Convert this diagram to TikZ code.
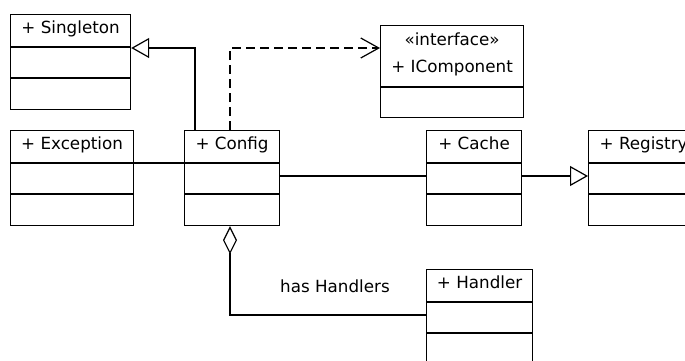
\documentclass[tikz,border=0pt]{standalone}
\usepackage{fontspec}
\setmainfont{DejaVu Sans}
\usetikzlibrary{arrows.meta}
\tikzset{
  cls/.style={draw, line width=1.2bp, fill=white, inner sep=0pt, anchor=north west},
  ttl/.style={font=\fontsize{16.8}{20}\selectfont, inner sep=0pt, anchor=base},
  edge/.style={line width=1.2bp},
  gen/.style={edge, -{Triangle[open, length=18bp, width=20bp, line width=1.2bp]}},
  dep/.style={edge, dash pattern=on 9bp off 5bp, -{Straight Barb[length=18bp, width=20bp, line width=1.2bp]}},
  agg/.style={edge, {Diamond[open, length=28bp, width=14bp, line width=1.2bp]}-},
}
\newcommand\umlclass[4]{% name, x, y, width
  \node[cls, minimum width=#4bp, minimum height=95bp] (#1) at (#2,#3) {};
  \draw[edge] ([yshift=-33bp]#1.north west) -- ([yshift=-33bp]#1.north east);
  \draw[edge] ([yshift=-64bp]#1.north west) -- ([yshift=-64bp]#1.north east);
}
\begin{document}
\begin{tikzpicture}[x=1bp, y=-1bp]
\useasboundingbox (0,0) rectangle (685,360);
\clip (0,0) rectangle (685,360);
\fill[white] (0,0) rectangle (685,360);

\umlclass{singleton}{10}{14}{120}
\node[ttl] (singleton-t) at ([yshift=-19bp]singleton.north) {+ Singleton};

\umlclass{exception}{10}{130}{123}
\node[ttl] (exception-t) at ([yshift=-19bp]exception.north) {+ Exception};

\umlclass{config}{184}{130}{95}
\node[ttl] (config-t) at ([yshift=-19bp]config.north) {+ Config};

\umlclass{cache}{426}{130}{95}
\node[ttl] (cache-t) at ([yshift=-19bp]cache.north) {+ Cache};

\umlclass{registry}{588}{130}{110}
\node[ttl] (registry-t) at ([yshift=-19bp]registry.north) {+ Registry};

\umlclass{handler}{426}{269}{106}
\node[ttl] (handler-t) at ([yshift=-19bp]handler.north) {+ Handler};

\node[cls, minimum width=143bp, minimum height=92bp] (icomp) at (380,25) {};
\draw[edge] ([yshift=-62bp]icomp.north west) -- ([yshift=-62bp]icomp.north east);
\node[ttl] (icomp-s) at ([yshift=-20bp]icomp.north) {«interface»};
\node[ttl] (icomp-t) at ([yshift=-47bp]icomp.north) {+ IComponent};

% connectors
\draw[gen] ([xshift=11bp]config.north west) |- ([yshift=-34bp]singleton.north east);
\draw[dep] ([xshift=46bp]config.north west) |- ([yshift=-23bp]icomp.north west);
\draw[edge] ([yshift=-33bp]exception.north east) -- ([yshift=-33bp]config.north west);
\draw[edge] ([yshift=-46bp]config.north east) -- ([yshift=-46bp]cache.north west);
\draw[gen] ([yshift=-46bp]cache.north east) -- ([yshift=-46bp]registry.north west);
\draw[agg] ([xshift=46bp]config.south west) |- ([yshift=-46bp]handler.north west);
\node[ttl] (lbl) at (335,292) {has Handlers};
\end{tikzpicture}
\end{document}
